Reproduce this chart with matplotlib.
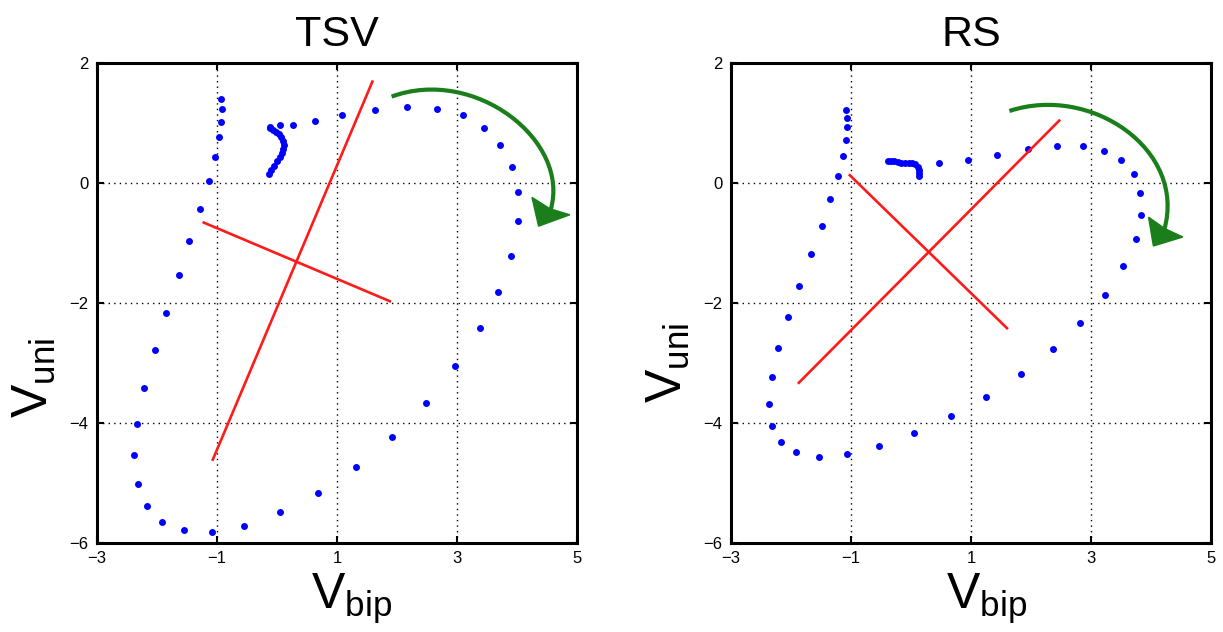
import matplotlib
matplotlib.use("Agg")
import matplotlib.pyplot as plt
from matplotlib.path import Path
from matplotlib.patches import PathPatch, Polygon

plt.rcParams['font.family'] = ['Liberation Sans', 'DejaVu Sans']
plt.rcParams['mathtext.fontset'] = 'custom'
plt.rcParams['mathtext.rm'] = 'Liberation Sans'
plt.rcParams['mathtext.it'] = 'Liberation Sans'

# ---------------- data ----------------
titles = ["TSV", "RS"]
x_ticks = [-3, -1, 1, 3, 5]
y_ticks = [2, 0, -2, -4, -6]

# TSV loop
tsv_x = [-0.14, -0.10, -0.05, 0.00, 0.05, 0.08, 0.10, 0.11, 0.10, 0.07, 0.03, -0.02, -0.07, -0.11, -0.12,
         0.05, 0.27, 0.63, 1.09, 1.63, 2.17, 2.67, 3.10, 3.45, 3.72, 3.91, 4.01, 4.01, 3.90, 3.69,
         3.38, 2.97, 2.48, 1.92, 1.31, 0.68, 0.05, -0.55, -1.08, -1.55, -1.92, -2.17, -2.32, -2.38,
         -2.33, -2.22, -2.04, -1.85, -1.64, -1.46, -1.28, -1.14, -1.03, -0.97, -0.93, -0.92, -0.93]
tsv_y = [0.15, 0.22, 0.29, 0.36, 0.43, 0.50, 0.57, 0.64, 0.70, 0.76, 0.81, 0.85, 0.89, 0.92, 0.93,
         0.96, 0.97, 1.04, 1.13, 1.22, 1.26, 1.23, 1.13, 0.92, 0.64, 0.27, -0.15, -0.64, -1.21, -1.81,
         -2.42, -3.05, -3.66, -4.23, -4.73, -5.16, -5.49, -5.71, -5.82, -5.79, -5.65, -5.38, -5.01, -4.54,
         -4.01, -3.41, -2.79, -2.17, -1.54, -0.96, -0.43, 0.03, 0.44, 0.76, 1.02, 1.23, 1.40]

# RS loop
rs_x = [0.13, 0.14, 0.14, 0.11, 0.07, 0.02, -0.04, -0.10, -0.16, -0.22, -0.28, -0.33, -0.38,
        0.47, 0.95, 1.44, 1.95, 2.43, 2.86, 3.22, 3.50, 3.72, 3.82, 3.84, 3.75, 3.54, 3.23,
        2.82, 2.36, 1.83, 1.25, 0.66, 0.05, -0.54, -1.07, -1.53, -1.91, -2.16, -2.31, -2.36,
        -2.32, -2.21, -2.05, -1.86, -1.67, -1.49, -1.35, -1.22, -1.14, -1.09, -1.07, -1.07, -1.08]
rs_y = [0.12, 0.17, 0.22, 0.27, 0.31, 0.33, 0.33, 0.34, 0.34, 0.35, 0.36, 0.37, 0.37,
        0.34, 0.38, 0.47, 0.56, 0.62, 0.62, 0.53, 0.38, 0.15, -0.16, -0.53, -0.94, -1.39, -1.87,
        -2.33, -2.77, -3.19, -3.57, -3.89, -4.17, -4.38, -4.52, -4.56, -4.49, -4.32, -4.05, -3.68,
        -3.24, -2.75, -2.24, -1.71, -1.19, -0.71, -0.27, 0.12, 0.45, 0.72, 0.93, 1.08, 1.22]

# principal axes (red lines): [x_start, x_end], [y_start, y_end]
tsv_axis1_x = [-1.22, 1.88]
tsv_axis1_y = [-0.66, -1.97]
tsv_axis2_x = [-1.07, 1.59]
tsv_axis2_y = [-4.61, 1.69]
rs_axis1_x = [-1.02, 1.60]
rs_axis1_y = [0.13, -2.42]
rs_axis2_x = [-1.87, 2.47]
rs_axis2_y = [-3.33, 1.04]

# rotation-direction arrows: cubic Bezier control points and arrowhead
tsv_arc = [(1.91, 1.44), (3.3, 1.95), (4.9, 0.7), (4.56, -0.45)]
tsv_head = [(4.25, -0.24), (4.36, -0.72), (4.88, -0.53), (4.55, -0.43)]
rs_arc = [(1.64, 1.20), (3.0, 1.65), (4.6, 0.55), (4.22, -0.78)]
rs_head = [(3.96, -0.57), (4.04, -1.05), (4.53, -0.90), (4.23, -0.76)]

# ---------------- figure ----------------
fig = plt.figure(figsize=(12.23, 6.32), dpi=100)
ax_l = fig.add_axes([97 / 1223, 89 / 632, 480 / 1223, 480 / 632])
ax_r = fig.add_axes([731 / 1223, 89 / 632, 480 / 1223, 480 / 632])

panels = [
    (ax_l, titles[0], tsv_x, tsv_y, (tsv_axis1_x, tsv_axis1_y), (tsv_axis2_x, tsv_axis2_y),
     tsv_arc, tsv_head, (0.53, -0.117), (-0.13, 0.345)),
    (ax_r, titles[1], rs_x, rs_y, (rs_axis1_x, rs_axis1_y), (rs_axis2_x, rs_axis2_y),
     rs_arc, rs_head, (0.533, -0.117), (-0.13, 0.375)),
]

green = '#1a7f1a'
for ax, title, xs, ys, a1, a2, arc, head, xl_pos, yl_pos in panels:
    ax.set_xlim(-3, 5)
    ax.set_ylim(-6, 2)
    ax.set_xticks(x_ticks)
    ax.set_yticks(y_ticks)
    ax.set_xticklabels([str(t).replace('-', '\u2212') for t in x_ticks])
    ax.set_yticklabels([str(t).replace('-', '\u2212') for t in y_ticks])
    ax.tick_params(direction='in', top=True, right=True, length=5, width=1.5,
                   labelsize=12, pad=6)
    for s in ax.spines.values():
        s.set_linewidth(2.2)
    ax.grid(True, linestyle=(0, (1, 3)), color='black', linewidth=1.0)
    ax.set_axisbelow(True)

    ax.plot(xs, ys, 'o', color='#0000ff', markersize=5.0, markeredgewidth=0, zorder=3)
    ax.plot(a1[0], a1[1], color='#ff1a1a', linewidth=1.9, zorder=4)
    ax.plot(a2[0], a2[1], color='#ff1a1a', linewidth=1.9, zorder=4)

    path = Path(arc, [Path.MOVETO, Path.CURVE4, Path.CURVE4, Path.CURVE4])
    ax.add_patch(PathPatch(path, facecolor='none', edgecolor=green, linewidth=3.0,
                           capstyle='butt', zorder=5, clip_on=False))
    ax.add_patch(Polygon(head, closed=True, facecolor=green, edgecolor=green,
                         linewidth=1.0, zorder=5, clip_on=False))

    ax.set_title(title, fontsize=31, pad=12)
    ax.set_xlabel(r'$\mathrm{V}_{\mathrm{bip}}$', fontsize=36, va='center', ha='center')
    ax.set_ylabel(r'$\mathrm{V}_{\mathrm{uni}}$', fontsize=36, va='center', ha='center')
    ax.xaxis.set_label_coords(*xl_pos)
    ax.yaxis.set_label_coords(*yl_pos)

fig.savefig('out.png', dpi=100)
